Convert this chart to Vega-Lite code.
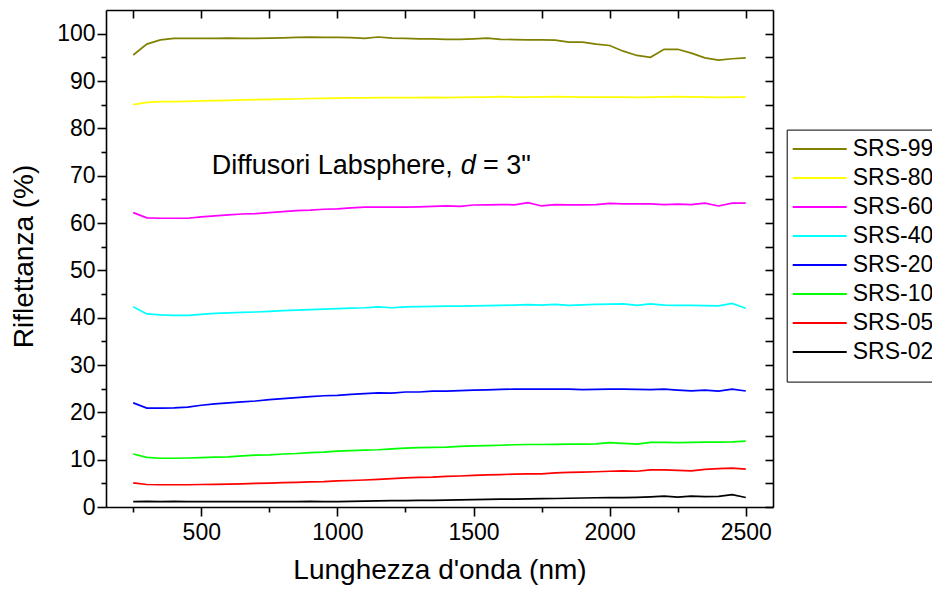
{
  "$schema": "https://vega.github.io/schema/vega-lite/v6.json",
  "width": 667,
  "height": 497,
  "autosize": {"type": "none"},
  "padding": {"left": 106, "top": 10, "right": 159, "bottom": 85},
  "background": "white",
  "config": {
    "font": "Liberation Sans",
    "view": {"stroke": null},
    "axis": {
      "grid": false,
      "domainColor": "black",
      "tickColor": "black",
      "labelColor": "black",
      "titleColor": "black",
      "labelFont": "Liberation Sans",
      "titleFont": "Liberation Sans",
      "titleFontWeight": "normal",
      "domainWidth": 1.6,
      "tickWidth": 1.6
    }
  },
  "datasets": {
    "spectra": [
      {"wl": 250, "SRS-99": 95.5, "SRS-80": 85.0, "SRS-60": 62.2, "SRS-40": 42.3, "SRS-20": 22.0, "SRS-10": 11.2, "SRS-05": 5.1, "SRS-02": 1.15},
      {"wl": 300, "SRS-99": 97.8, "SRS-80": 85.5, "SRS-60": 61.1, "SRS-40": 40.8, "SRS-20": 20.9, "SRS-10": 10.5, "SRS-05": 4.75, "SRS-02": 1.2},
      {"wl": 350, "SRS-99": 98.7, "SRS-80": 85.65, "SRS-60": 61.0, "SRS-40": 40.6, "SRS-20": 20.9, "SRS-10": 10.3, "SRS-05": 4.7, "SRS-02": 1.15},
      {"wl": 400, "SRS-99": 99.0, "SRS-80": 85.65, "SRS-60": 61.0, "SRS-40": 40.5, "SRS-20": 20.95, "SRS-10": 10.3, "SRS-05": 4.7, "SRS-02": 1.2},
      {"wl": 450, "SRS-99": 99.0, "SRS-80": 85.7, "SRS-60": 61.0, "SRS-40": 40.5, "SRS-20": 21.1, "SRS-10": 10.35, "SRS-05": 4.7, "SRS-02": 1.15},
      {"wl": 500, "SRS-99": 99.0, "SRS-80": 85.8, "SRS-60": 61.3, "SRS-40": 40.7, "SRS-20": 21.5, "SRS-10": 10.45, "SRS-05": 4.75, "SRS-02": 1.15},
      {"wl": 550, "SRS-99": 99.0, "SRS-80": 85.85, "SRS-60": 61.5, "SRS-40": 40.9, "SRS-20": 21.8, "SRS-10": 10.55, "SRS-05": 4.8, "SRS-02": 1.15},
      {"wl": 600, "SRS-99": 99.05, "SRS-80": 85.9, "SRS-60": 61.7, "SRS-40": 41.0, "SRS-20": 22.0, "SRS-10": 10.6, "SRS-05": 4.85, "SRS-02": 1.15},
      {"wl": 650, "SRS-99": 99.0, "SRS-80": 86.0, "SRS-60": 61.9, "SRS-40": 41.1, "SRS-20": 22.2, "SRS-10": 10.8, "SRS-05": 4.9, "SRS-02": 1.15},
      {"wl": 700, "SRS-99": 99.0, "SRS-80": 86.05, "SRS-60": 62.0, "SRS-40": 41.2, "SRS-20": 22.4, "SRS-10": 10.95, "SRS-05": 5.0, "SRS-02": 1.15},
      {"wl": 750, "SRS-99": 99.05, "SRS-80": 86.1, "SRS-60": 62.2, "SRS-40": 41.35, "SRS-20": 22.7, "SRS-10": 11.0, "SRS-05": 5.05, "SRS-02": 1.15},
      {"wl": 800, "SRS-99": 99.1, "SRS-80": 86.15, "SRS-60": 62.4, "SRS-40": 41.5, "SRS-20": 22.9, "SRS-10": 11.2, "SRS-05": 5.15, "SRS-02": 1.15},
      {"wl": 850, "SRS-99": 99.2, "SRS-80": 86.2, "SRS-60": 62.6, "SRS-40": 41.6, "SRS-20": 23.1, "SRS-10": 11.3, "SRS-05": 5.2, "SRS-02": 1.15},
      {"wl": 900, "SRS-99": 99.25, "SRS-80": 86.3, "SRS-60": 62.7, "SRS-40": 41.7, "SRS-20": 23.3, "SRS-10": 11.5, "SRS-05": 5.3, "SRS-02": 1.2},
      {"wl": 950, "SRS-99": 99.2, "SRS-80": 86.35, "SRS-60": 62.9, "SRS-40": 41.8, "SRS-20": 23.5, "SRS-10": 11.6, "SRS-05": 5.35, "SRS-02": 1.15},
      {"wl": 1000, "SRS-99": 99.2, "SRS-80": 86.4, "SRS-60": 63.0, "SRS-40": 41.9, "SRS-20": 23.6, "SRS-10": 11.8, "SRS-05": 5.5, "SRS-02": 1.15},
      {"wl": 1050, "SRS-99": 99.15, "SRS-80": 86.45, "SRS-60": 63.2, "SRS-40": 42.0, "SRS-20": 23.8, "SRS-10": 11.9, "SRS-05": 5.6, "SRS-02": 1.2},
      {"wl": 1100, "SRS-99": 99.0, "SRS-80": 86.45, "SRS-60": 63.35, "SRS-40": 42.1, "SRS-20": 23.95, "SRS-10": 12.0, "SRS-05": 5.7, "SRS-02": 1.25},
      {"wl": 1150, "SRS-99": 99.3, "SRS-80": 86.5, "SRS-60": 63.35, "SRS-40": 42.3, "SRS-20": 24.1, "SRS-10": 12.1, "SRS-05": 5.85, "SRS-02": 1.3},
      {"wl": 1200, "SRS-99": 99.05, "SRS-80": 86.5, "SRS-60": 63.35, "SRS-40": 42.1, "SRS-20": 24.05, "SRS-10": 12.3, "SRS-05": 6.0, "SRS-02": 1.35},
      {"wl": 1250, "SRS-99": 99.0, "SRS-80": 86.5, "SRS-60": 63.35, "SRS-40": 42.3, "SRS-20": 24.3, "SRS-10": 12.45, "SRS-05": 6.15, "SRS-02": 1.35},
      {"wl": 1300, "SRS-99": 98.9, "SRS-80": 86.5, "SRS-60": 63.4, "SRS-40": 42.35, "SRS-20": 24.3, "SRS-10": 12.55, "SRS-05": 6.25, "SRS-02": 1.4},
      {"wl": 1350, "SRS-99": 98.9, "SRS-80": 86.55, "SRS-60": 63.5, "SRS-40": 42.4, "SRS-20": 24.5, "SRS-10": 12.6, "SRS-05": 6.3, "SRS-02": 1.4},
      {"wl": 1400, "SRS-99": 98.8, "SRS-80": 86.5, "SRS-60": 63.6, "SRS-40": 42.45, "SRS-20": 24.5, "SRS-10": 12.65, "SRS-05": 6.45, "SRS-02": 1.45},
      {"wl": 1450, "SRS-99": 98.8, "SRS-80": 86.55, "SRS-60": 63.5, "SRS-40": 42.45, "SRS-20": 24.6, "SRS-10": 12.8, "SRS-05": 6.55, "SRS-02": 1.5},
      {"wl": 1500, "SRS-99": 98.9, "SRS-80": 86.6, "SRS-60": 63.8, "SRS-40": 42.5, "SRS-20": 24.7, "SRS-10": 12.9, "SRS-05": 6.7, "SRS-02": 1.55},
      {"wl": 1550, "SRS-99": 99.05, "SRS-80": 86.6, "SRS-60": 63.85, "SRS-40": 42.55, "SRS-20": 24.75, "SRS-10": 12.95, "SRS-05": 6.8, "SRS-02": 1.6},
      {"wl": 1600, "SRS-99": 98.8, "SRS-80": 86.7, "SRS-60": 63.9, "SRS-40": 42.6, "SRS-20": 24.85, "SRS-10": 13.05, "SRS-05": 6.85, "SRS-02": 1.65},
      {"wl": 1650, "SRS-99": 98.75, "SRS-80": 86.6, "SRS-60": 63.85, "SRS-40": 42.65, "SRS-20": 24.9, "SRS-10": 13.15, "SRS-05": 6.95, "SRS-02": 1.65},
      {"wl": 1700, "SRS-99": 98.7, "SRS-80": 86.6, "SRS-60": 64.3, "SRS-40": 42.75, "SRS-20": 24.9, "SRS-10": 13.2, "SRS-05": 7.0, "SRS-02": 1.7},
      {"wl": 1750, "SRS-99": 98.7, "SRS-80": 86.65, "SRS-60": 63.6, "SRS-40": 42.65, "SRS-20": 24.9, "SRS-10": 13.2, "SRS-05": 7.0, "SRS-02": 1.75},
      {"wl": 1800, "SRS-99": 98.65, "SRS-80": 86.7, "SRS-60": 63.9, "SRS-40": 42.8, "SRS-20": 24.9, "SRS-10": 13.25, "SRS-05": 7.2, "SRS-02": 1.8},
      {"wl": 1850, "SRS-99": 98.2, "SRS-80": 86.65, "SRS-60": 63.85, "SRS-40": 42.6, "SRS-20": 24.9, "SRS-10": 13.3, "SRS-05": 7.3, "SRS-02": 1.85},
      {"wl": 1900, "SRS-99": 98.2, "SRS-80": 86.6, "SRS-60": 63.85, "SRS-40": 42.7, "SRS-20": 24.8, "SRS-10": 13.3, "SRS-05": 7.35, "SRS-02": 1.9},
      {"wl": 1950, "SRS-99": 97.8, "SRS-80": 86.6, "SRS-60": 63.9, "SRS-40": 42.8, "SRS-20": 24.85, "SRS-10": 13.35, "SRS-05": 7.45, "SRS-02": 1.95},
      {"wl": 2000, "SRS-99": 97.5, "SRS-80": 86.6, "SRS-60": 64.15, "SRS-40": 42.85, "SRS-20": 24.9, "SRS-10": 13.6, "SRS-05": 7.55, "SRS-02": 2.0},
      {"wl": 2050, "SRS-99": 96.3, "SRS-80": 86.6, "SRS-60": 64.05, "SRS-40": 42.9, "SRS-20": 24.9, "SRS-10": 13.45, "SRS-05": 7.65, "SRS-02": 2.0},
      {"wl": 2100, "SRS-99": 95.4, "SRS-80": 86.55, "SRS-60": 64.05, "SRS-40": 42.6, "SRS-20": 24.85, "SRS-10": 13.3, "SRS-05": 7.55, "SRS-02": 2.05},
      {"wl": 2150, "SRS-99": 95.0, "SRS-80": 86.6, "SRS-60": 64.05, "SRS-40": 42.9, "SRS-20": 24.8, "SRS-10": 13.65, "SRS-05": 7.85, "SRS-02": 2.15},
      {"wl": 2200, "SRS-99": 96.7, "SRS-80": 86.65, "SRS-60": 63.9, "SRS-40": 42.65, "SRS-20": 24.9, "SRS-10": 13.65, "SRS-05": 7.85, "SRS-02": 2.3},
      {"wl": 2250, "SRS-99": 96.7, "SRS-80": 86.7, "SRS-60": 64.0, "SRS-40": 42.6, "SRS-20": 24.7, "SRS-10": 13.6, "SRS-05": 7.75, "SRS-02": 2.1},
      {"wl": 2300, "SRS-99": 95.9, "SRS-80": 86.65, "SRS-60": 63.9, "SRS-40": 42.6, "SRS-20": 24.55, "SRS-10": 13.65, "SRS-05": 7.65, "SRS-02": 2.3},
      {"wl": 2350, "SRS-99": 94.9, "SRS-80": 86.6, "SRS-60": 64.2, "SRS-40": 42.55, "SRS-20": 24.7, "SRS-10": 13.7, "SRS-05": 7.95, "SRS-02": 2.2},
      {"wl": 2400, "SRS-99": 94.4, "SRS-80": 86.55, "SRS-60": 63.6, "SRS-40": 42.5, "SRS-20": 24.5, "SRS-10": 13.7, "SRS-05": 8.1, "SRS-02": 2.25},
      {"wl": 2450, "SRS-99": 94.7, "SRS-80": 86.6, "SRS-60": 64.2, "SRS-40": 43.0, "SRS-20": 24.9, "SRS-10": 13.75, "SRS-05": 8.2, "SRS-02": 2.6},
      {"wl": 2500, "SRS-99": 94.9, "SRS-80": 86.6, "SRS-60": 64.2, "SRS-40": 42.0, "SRS-20": 24.5, "SRS-10": 13.9, "SRS-05": 8.0, "SRS-02": 2.0}
    ],
    "note1": [{"x": 538, "y": 70.3, "t": "Diffusori Labsphere,"}],
    "note2": [{"x": 1453, "y": 70.3, "t": "d"}],
    "note3": [{"x": 1535, "y": 70.3, "t": "= 3\""}]
  },
  "layer": [
    {
      "data": {"name": "spectra"},
      "transform": [{"fold": ["SRS-99", "SRS-80", "SRS-60", "SRS-40", "SRS-20", "SRS-10", "SRS-05", "SRS-02"], "as": ["serie", "R"]}],
      "mark": {"type": "line", "strokeWidth": 1.7, "clip": true},
      "encoding": {
        "x": {
          "field": "wl", "type": "quantitative",
          "scale": {"domain": [150, 2600], "nice": false, "zero": false},
          "axis": {
            "orient": "bottom", "values": [500, 1000, 1500, 2000, 2500], "format": "d",
            "tickSize": 9, "labelFontSize": 23, "labelPadding": 5, "labelFlush": false, "labelOverlap": false,
            "title": "Lunghezza d'onda (nm)", "titleFontSize": 28, "titleY": 71, "titleBaseline": "alphabetic", "titleAnchor": "middle"
          }
        },
        "y": {
          "field": "R", "type": "quantitative",
          "scale": {"domain": [0, 105], "nice": false},
          "axis": {
            "orient": "left", "values": [0, 10, 20, 30, 40, 50, 60, 70, 80, 90, 100], "format": "d",
            "tickSize": 9, "labelFontSize": 23, "labelPadding": 2, "labelFlush": false, "labelOverlap": false,
            "title": "Riflettanza (%)", "titleFontSize": 28, "titleAngle": -90, "titleX": -74, "titleY": 246,
            "titleBaseline": "alphabetic", "titleAlign": "center"
          }
        },
        "color": {
          "field": "serie", "type": "nominal",
          "scale": {
            "domain": ["SRS-99", "SRS-80", "SRS-60", "SRS-40", "SRS-20", "SRS-10", "SRS-05", "SRS-02"],
            "range": ["#808000", "#FFFF00", "#FF00FF", "#00FFFF", "#0000FF", "#00FF00", "#FF0000", "#000000"]
          },
          "legend": {
            "orient": "none", "legendX": 680.7, "legendY": 119.6, "title": " ", "titleOrient": "bottom",
            "titleFontSize": 10, "titlePadding": 0,
            "strokeColor": "black", "fillColor": "white", "padding": 5,
            "symbolType": "stroke", "symbolSize": 2916, "symbolStrokeWidth": 2, "symbolOffset": 0,
            "labelFontSize": 23, "labelFont": "Liberation Sans", "labelColor": "black", "labelOffset": 5,
            "clipHeight": 28.7, "rowPadding": 0, "labelLimit": 300
          }
        }
      }
    },
    {
      "data": {"name": "note1"},
      "mark": {"type": "text", "fontSize": 27, "align": "left", "baseline": "alphabetic", "color": "black"},
      "encoding": {
        "x": {"field": "x", "type": "quantitative", "scale": {"domain": [150, 2600], "nice": false, "zero": false},
              "axis": {"orient": "bottom", "values": [250, 750, 1250, 1750, 2250], "tickSize": 5, "labels": false, "domain": false, "title": null}},
        "y": {"field": "y", "type": "quantitative", "scale": {"domain": [0, 105], "nice": false},
              "axis": {"orient": "left", "values": [5, 15, 25, 35, 45, 55, 65, 75, 85, 95], "tickSize": 5, "labels": false, "domain": false, "title": null}},
        "text": {"field": "t"}
      }
    },
    {
      "data": {"name": "note2"},
      "mark": {"type": "text", "fontSize": 27, "fontStyle": "italic", "align": "left", "baseline": "alphabetic", "color": "black"},
      "encoding": {
        "x": {"field": "x", "type": "quantitative", "scale": {"domain": [150, 2600], "nice": false, "zero": false},
              "axis": {"orient": "top", "values": [500, 1000, 1500, 2000, 2500], "tickSize": -8, "labels": false, "domain": true, "title": null}},
        "y": {"field": "y", "type": "quantitative", "scale": {"domain": [0, 105], "nice": false},
              "axis": {"orient": "right", "values": [0, 10, 20, 30, 40, 50, 60, 70, 80, 90, 100], "tickSize": -8, "labels": false, "domain": true, "title": null}},
        "text": {"field": "t"}
      }
    },
    {
      "data": {"name": "note3"},
      "mark": {"type": "text", "fontSize": 27, "align": "left", "baseline": "alphabetic", "color": "black"},
      "encoding": {
        "x": {"field": "x", "type": "quantitative", "scale": {"domain": [150, 2600], "nice": false, "zero": false},
              "axis": {"orient": "top", "values": [250, 750, 1250, 1750, 2250], "tickSize": -8, "labels": false, "domain": false, "title": null}},
        "y": {"field": "y", "type": "quantitative", "scale": {"domain": [0, 105], "nice": false},
              "axis": {"orient": "right", "values": [5, 15, 25, 35, 45, 55, 65, 75, 85, 95], "tickSize": -8, "labels": false, "domain": false, "title": null}},
        "text": {"field": "t"}
      }
    }
  ],
  "resolve": {"axis": {"x": "independent", "y": "independent"}}
}
